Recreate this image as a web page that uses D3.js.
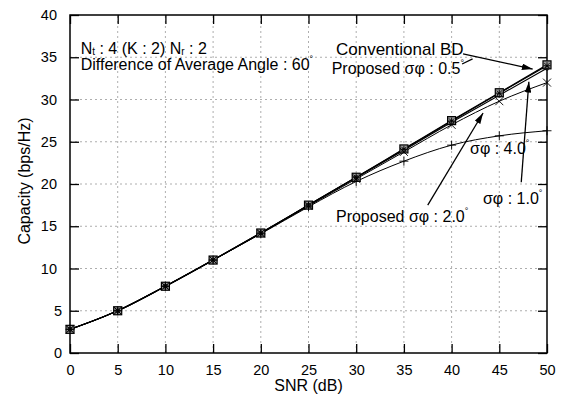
<!DOCTYPE html>
<html><head><meta charset="utf-8">
<script src="https://cdn.jsdelivr.net/npm/d3@7"></script>
<style>body{margin:0;background:#fff}svg{display:block}text{font-family:"Liberation Sans",Arial,sans-serif;fill:#000}</style>
</head><body>
<svg id="c" width="565" height="408"></svg>
<script>
const snr = [0,5,10,15,20,25,30,35,40,45,50];
const convBD = [2.8,5.0,7.9,11.0,14.2,17.5,20.8,24.15,27.5,30.8,34.1];
const prop05 = [2.8,5.0,7.9,11.0,14.2,17.5,20.8,24.1,27.45,30.75,34.0];
const prop10 = [2.8,5.0,7.9,11.0,14.2,17.5,20.75,24.0,27.3,30.5,33.7];
const prop20 = [2.8,5.0,7.9,11.0,14.15,17.4,20.6,23.8,27.0,29.8,32.0];
const prop40 = [2.8,5.0,7.9,11.0,14.1,17.3,20.3,22.7,24.6,25.7,26.3];
const xTicks = [0,5,10,15,20,25,30,35,40,45,50];
const yTicks = [0,5,10,15,20,25,30,35,40];

const svg = d3.select("#c");
const x = d3.scaleLinear().domain([0,50]).range([70,547]);
const y = d3.scaleLinear().domain([0,40]).range([353,15]);
const g = svg.append("g");

// grid
g.selectAll(".gx").data(xTicks.slice(1,-1)).enter().append("line")
  .attr("x1",d=>x(d)).attr("x2",d=>x(d)).attr("y1",y(0)).attr("y2",y(40))
  .attr("stroke","#999").attr("stroke-width",0.8).attr("stroke-dasharray","2,3");
g.selectAll(".gy").data(yTicks.slice(1,-1)).enter().append("line")
  .attr("x1",x(0)).attr("x2",x(50)).attr("y1",d=>y(d)).attr("y2",d=>y(d))
  .attr("stroke","#999").attr("stroke-width",0.8).attr("stroke-dasharray","2,3");

// axes
const tl = 9;
g.append("g").attr("transform",`translate(0,${y(0)})`)
  .call(d3.axisBottom(x).tickValues(xTicks).tickSize(-tl).tickPadding(12).tickFormat(d3.format("d")))
  .call(s=>{s.select(".domain").remove();s.selectAll("text").style("font-size","14.5px").attr("fill","#000");s.selectAll("line").attr("stroke","#000").attr("stroke-width",1.3);});
g.append("g").attr("transform",`translate(0,${y(40)})`)
  .call(d3.axisTop(x).tickValues(xTicks).tickSize(-tl).tickFormat(""))
  .call(s=>{s.select(".domain").remove();s.selectAll("line").attr("stroke","#000").attr("stroke-width",1.3);});
g.append("g").attr("transform",`translate(${x(0)},0)`)
  .call(d3.axisLeft(y).tickValues(yTicks).tickSize(-tl).tickPadding(14).tickFormat(d3.format("d")))
  .call(s=>{s.select(".domain").remove();
    s.selectAll("text").style("font-size","14.5px").attr("fill","#000").attr("dx",d=>d<10?6:1);
    s.selectAll("line").attr("stroke","#000").attr("stroke-width",1.3);});
g.append("g").attr("transform",`translate(${x(50)},0)`)
  .call(d3.axisRight(y).tickValues(yTicks).tickSize(-tl).tickFormat(""))
  .call(s=>{s.select(".domain").remove();s.selectAll("line").attr("stroke","#000").attr("stroke-width",1.3);});
g.append("rect").attr("x",x(0)).attr("y",y(40)).attr("width",x(50)-x(0)).attr("height",y(0)-y(40))
  .attr("fill","none").attr("stroke","#000").attr("stroke-width",1.5);

// axis titles
svg.append("text").attr("x",(x(0)+x(50))/2).attr("y",391).attr("text-anchor","middle")
  .style("font-size","16px").text("SNR (dB)");
svg.append("text").attr("transform",`translate(30,${(y(0)+y(40))/2-3}) rotate(-90)`).attr("text-anchor","middle")
  .style("font-size","16px").text("Capacity (bps/Hz)");

// lines
const series = [
  {name:"Conventional BD", vals:convBD, marker:"square", w:1.3},
  {name:"Proposed 0.5", vals:prop05, marker:"star", w:1.2},
  {name:"Proposed 1.0", vals:prop10, marker:"circle", w:1.1},
  {name:"Proposed 2.0", vals:prop20, marker:"cross", w:1.0},
  {name:"Proposed 4.0", vals:prop40, marker:"plus", w:1.0}
];
const line = d3.line().x(d=>x(d[0])).y(d=>y(d[1])).curve(d3.curveMonotoneX);
series.forEach(s=>{
  const pts = snr.map((v,i)=>[v,s.vals[i]]);
  g.append("path").attr("d",line(pts)).attr("fill","none").attr("stroke","#000").attr("stroke-width",s.w);
});
series.forEach(s=>{
  const pts = snr.map((v,i)=>[v,s.vals[i]]);
  const mg = g.append("g");
  pts.forEach(p=>{
    const cx=x(p[0]), cy=y(p[1]);
    const m = mg.append("g").attr("transform",`translate(${cx},${cy})`);
    if(s.marker==="square"){
      m.append("rect").attr("x",-4).attr("y",-4).attr("width",8).attr("height",8).attr("fill","#999").attr("stroke","#000").attr("stroke-width",1.2);
    } else if(s.marker==="star"){
      m.append("path").attr("d","M-3.5,0H3.5M0,-3.5V3.5M-2.6,-2.6L2.6,2.6M-2.6,2.6L2.6,-2.6").attr("stroke","#000").attr("stroke-width",0.9);
    } else if(s.marker==="circle"){
      m.append("circle").attr("r",2).attr("fill","none").attr("stroke","#000").attr("stroke-width",0.8);
    } else if(s.marker==="cross"){
      m.append("path").attr("d","M-4,-4L4,4M-4,4L4,-4").attr("stroke","#000").attr("stroke-width",0.9);
    } else if(s.marker==="plus"){
      m.append("path").attr("d","M-4.5,0H4.5M0,-4.5V4.5").attr("stroke","#000").attr("stroke-width",0.9);
    }
  });
});

// annotations
svg.append("defs").append("marker").attr("id","ah").attr("viewBox","0 0 10 6").attr("refX",10).attr("refY",3)
  .attr("markerWidth",11).attr("markerHeight",6.5).attr("markerUnits","userSpaceOnUse").attr("orient","auto")
  .append("path").attr("d","M0,0L10,3L0,6Z").attr("fill","#000");
const arrows = [
  {from:[41.2,35.4], to:[48.5,33.6], head:true},
  {from:[41.1,34.2], to:[42.2,34.8], head:false},
  {from:[37.5,17.5], to:[43.3,28.4], head:true},
  {from:[47.3,20.2], to:[48.1,32.1], head:true}
];
arrows.forEach(a=>{
  const l = svg.append("line").attr("x1",x(a.from[0])).attr("y1",y(a.from[1])).attr("x2",x(a.to[0])).attr("y2",y(a.to[1]))
    .attr("stroke","#000").attr("stroke-width",1.3);
  if(a.head) l.attr("marker-end","url(#ah)");
});

function label(px,py,parts,fs){
  const t = svg.append("text").attr("x",x(px)).attr("y",y(py)).style("font-size",(fs||16)+"px");
  parts.forEach(p=>{
    const ts = t.append("tspan").text(p.t);
    if(p.sub){ts.style("font-size","10px").attr("dy",1.5);}
    if(p.sup){ts.style("font-size","9px").attr("dy",-8);}
    if(p.back){ts.attr("dy",-1.5);}
  });
}
label(1.12,35.44,[{t:"N"},{t:"t",sub:true},{t:" : 4 (K : 2) N",back:true},{t:"r",sub:true},{t:" : 2",back:true}]);
label(1.12,33.55,[{t:"Difference of Average Angle : 60"},{t:"°",sup:true}]);
label(27.88,35.27,[{t:"Conventional BD"}],17);
label(27.43,33.02,[{t:"Proposed σφ : 0.5"},{t:"°",sup:true}]);
label(41.93,23.55,[{t:"σφ : 4.0"},{t:"°",sup:true}]);
label(43.29,17.63,[{t:"σφ : 1.0"},{t:"°",sup:true}]);
label(27.88,15.54,[{t:"Proposed σφ : 2.0"},{t:"°",sup:true}]);
</script>
</body></html>
